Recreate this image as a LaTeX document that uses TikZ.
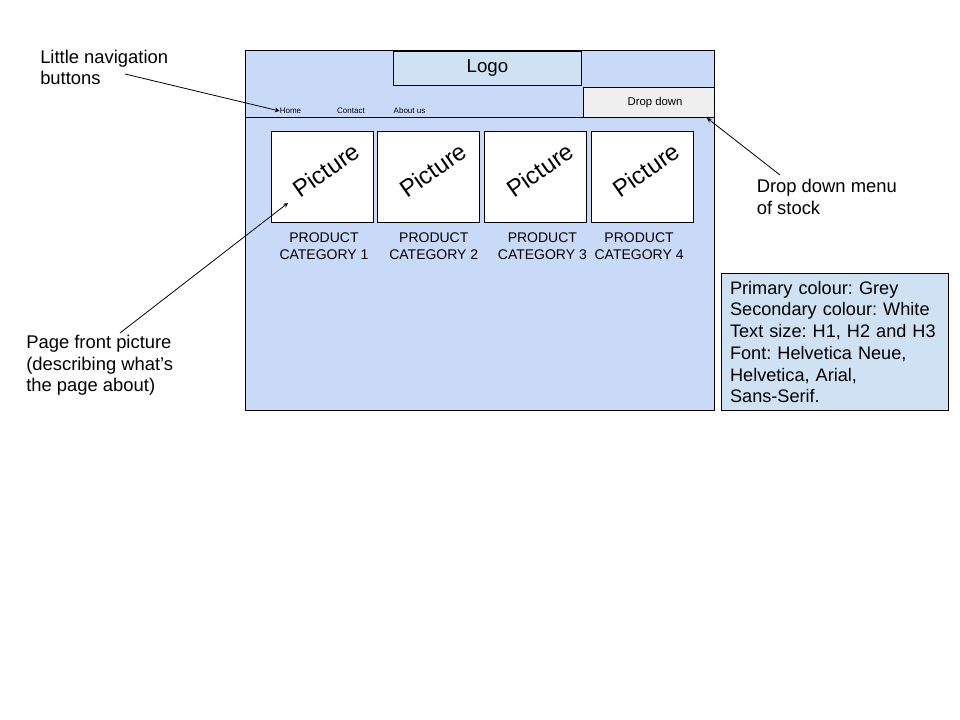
\documentclass[tikz,border=0pt]{standalone}
\usepackage{fontspec}
\setmainfont{Liberation Sans}
\usetikzlibrary{positioning}
\definecolor{pageblue}{HTML}{C9DAF8}
\definecolor{paleblue}{HTML}{CFE2F3}
\definecolor{palegrey}{HTML}{EFEFEF}
\frenchspacing
\tikzset{%
  page frame/.style={
    draw,
    fill=pageblue,
    line width=0.6pt
  },
  picture box/.style={
    draw,
    fill=white,
    line width=0.6pt,
    minimum width=76.5pt,
    minimum height=68.5pt,
    inner sep=0pt
  },
  picture text/.style={
    rotate=35,
    inner sep=0pt,
    font=\fontsize{18}{21}\selectfont
  },
  category/.style={
    align=center,
    inner sep=0pt,
    font=\fontsize{10.5}{12.8}\selectfont
  },
  nav button/.style={
    inner sep=0pt,
    font=\fontsize{6}{7}\selectfont
  },
  note/.style={
    align=left,
    anchor=west,
    inner sep=0pt,
    font=\fontsize{13.8}{16.3}\selectfont
  },
}

\begin{document}
\begin{tikzpicture}[> = stealth, x=0.75pt, y=-0.75pt]
\useasboundingbox (0,0) rectangle (960,720);
% page frame
\draw[page frame] (245.5,50) rectangle (714.5,410);
\draw[line width=0.6pt] (245.5,117.3) -- (714.5,117.3);

\node[draw, fill=paleblue, line width=0.6pt, minimum width=141pt, minimum height=25.5pt,
      font=\fontsize{14}{16}\selectfont] (logo) at (487.5,68) {Logo};
\node[draw, fill=palegrey, line width=0.6pt, minimum width=98.5pt, minimum height=22.5pt,
      font=\fontsize{8.5}{10}\selectfont] (dropdown) at (649,102.3) {\hspace*{9pt}Drop down};

% navigation
\node[nav button] (home) at (290.5,111) {Home};
\node[nav button] (contact) at (351,111) {Contact};
\node[nav button] (about) at (409.5,111) {About us};

% pictures
\node[picture box] (pic1) at (322,176.7) {};
\node[picture box] (pic2) at (428.3,176.7) {};
\node[picture box] (pic3) at (535.3,176.7) {};
\node[picture box] (pic4) at (642,176.7) {};

\node[picture text] (pic1 text) at ([xshift=3pt,yshift=5pt]pic1.center) {Picture};
\node[picture text] (pic2 text) at ([xshift=3.5pt,yshift=5pt]pic2.center) {Picture};
\node[picture text] (pic3 text) at ([xshift=3.5pt,yshift=5pt]pic3.center) {Picture};
\node[picture text] (pic4 text) at ([xshift=3pt,yshift=5pt]pic4.center) {Picture};

\node[category, below=7pt of pic1, xshift=1.5pt] (cat1) {PRODUCT\\CATEGORY 1};
\node[category, below=7pt of pic2, xshift=4.1pt] (cat2) {PRODUCT\\CATEGORY 2};
\node[category, below=7pt of pic3, xshift=5.3pt] (cat3) {PRODUCT\\CATEGORY 3};
\node[category, below=7pt of pic4, xshift=-2.2pt] (cat4) {PRODUCT\\CATEGORY 4};

% style notes
\node[draw, fill=paleblue, line width=0.6pt, anchor=north west, minimum width=170pt,
      minimum height=102.5pt, text width=157pt, inner xsep=6pt, align=left,
      font=\fontsize{13.6}{16.3}\selectfont] (style notes) at (721,273.3)
  {Primary colour: Grey\\Secondary colour: White\\Text size: H1, H2 and H3\\Font: Helvetica Neue,\\Helvetica, Arial,\\Sans-Serif.};

% notes and arrows
\node[note] (nav note) at (40,67.5) {Little navigation\\buttons};
\node[note] (menu note) at (756.5,197) {Drop down menu\\of stock};
\node[note] (front note) at (26,365.5) {Page front picture\\(describing what’s\\the page about)};

\coordinate (nav tail) at (125,74);
\coordinate (menu tail) at (780,175);
\coordinate (menu tip) at (707,118);
\coordinate (front tail) at (120,333);
\coordinate (front tip) at (288,203);

\draw[->, line width=0.6pt] (nav tail) -- (home.west);
\draw[->, line width=0.6pt] (menu tail) -- (menu tip);
\draw[->, line width=0.6pt] (front tail) -- (front tip);
\end{tikzpicture}
\end{document}
